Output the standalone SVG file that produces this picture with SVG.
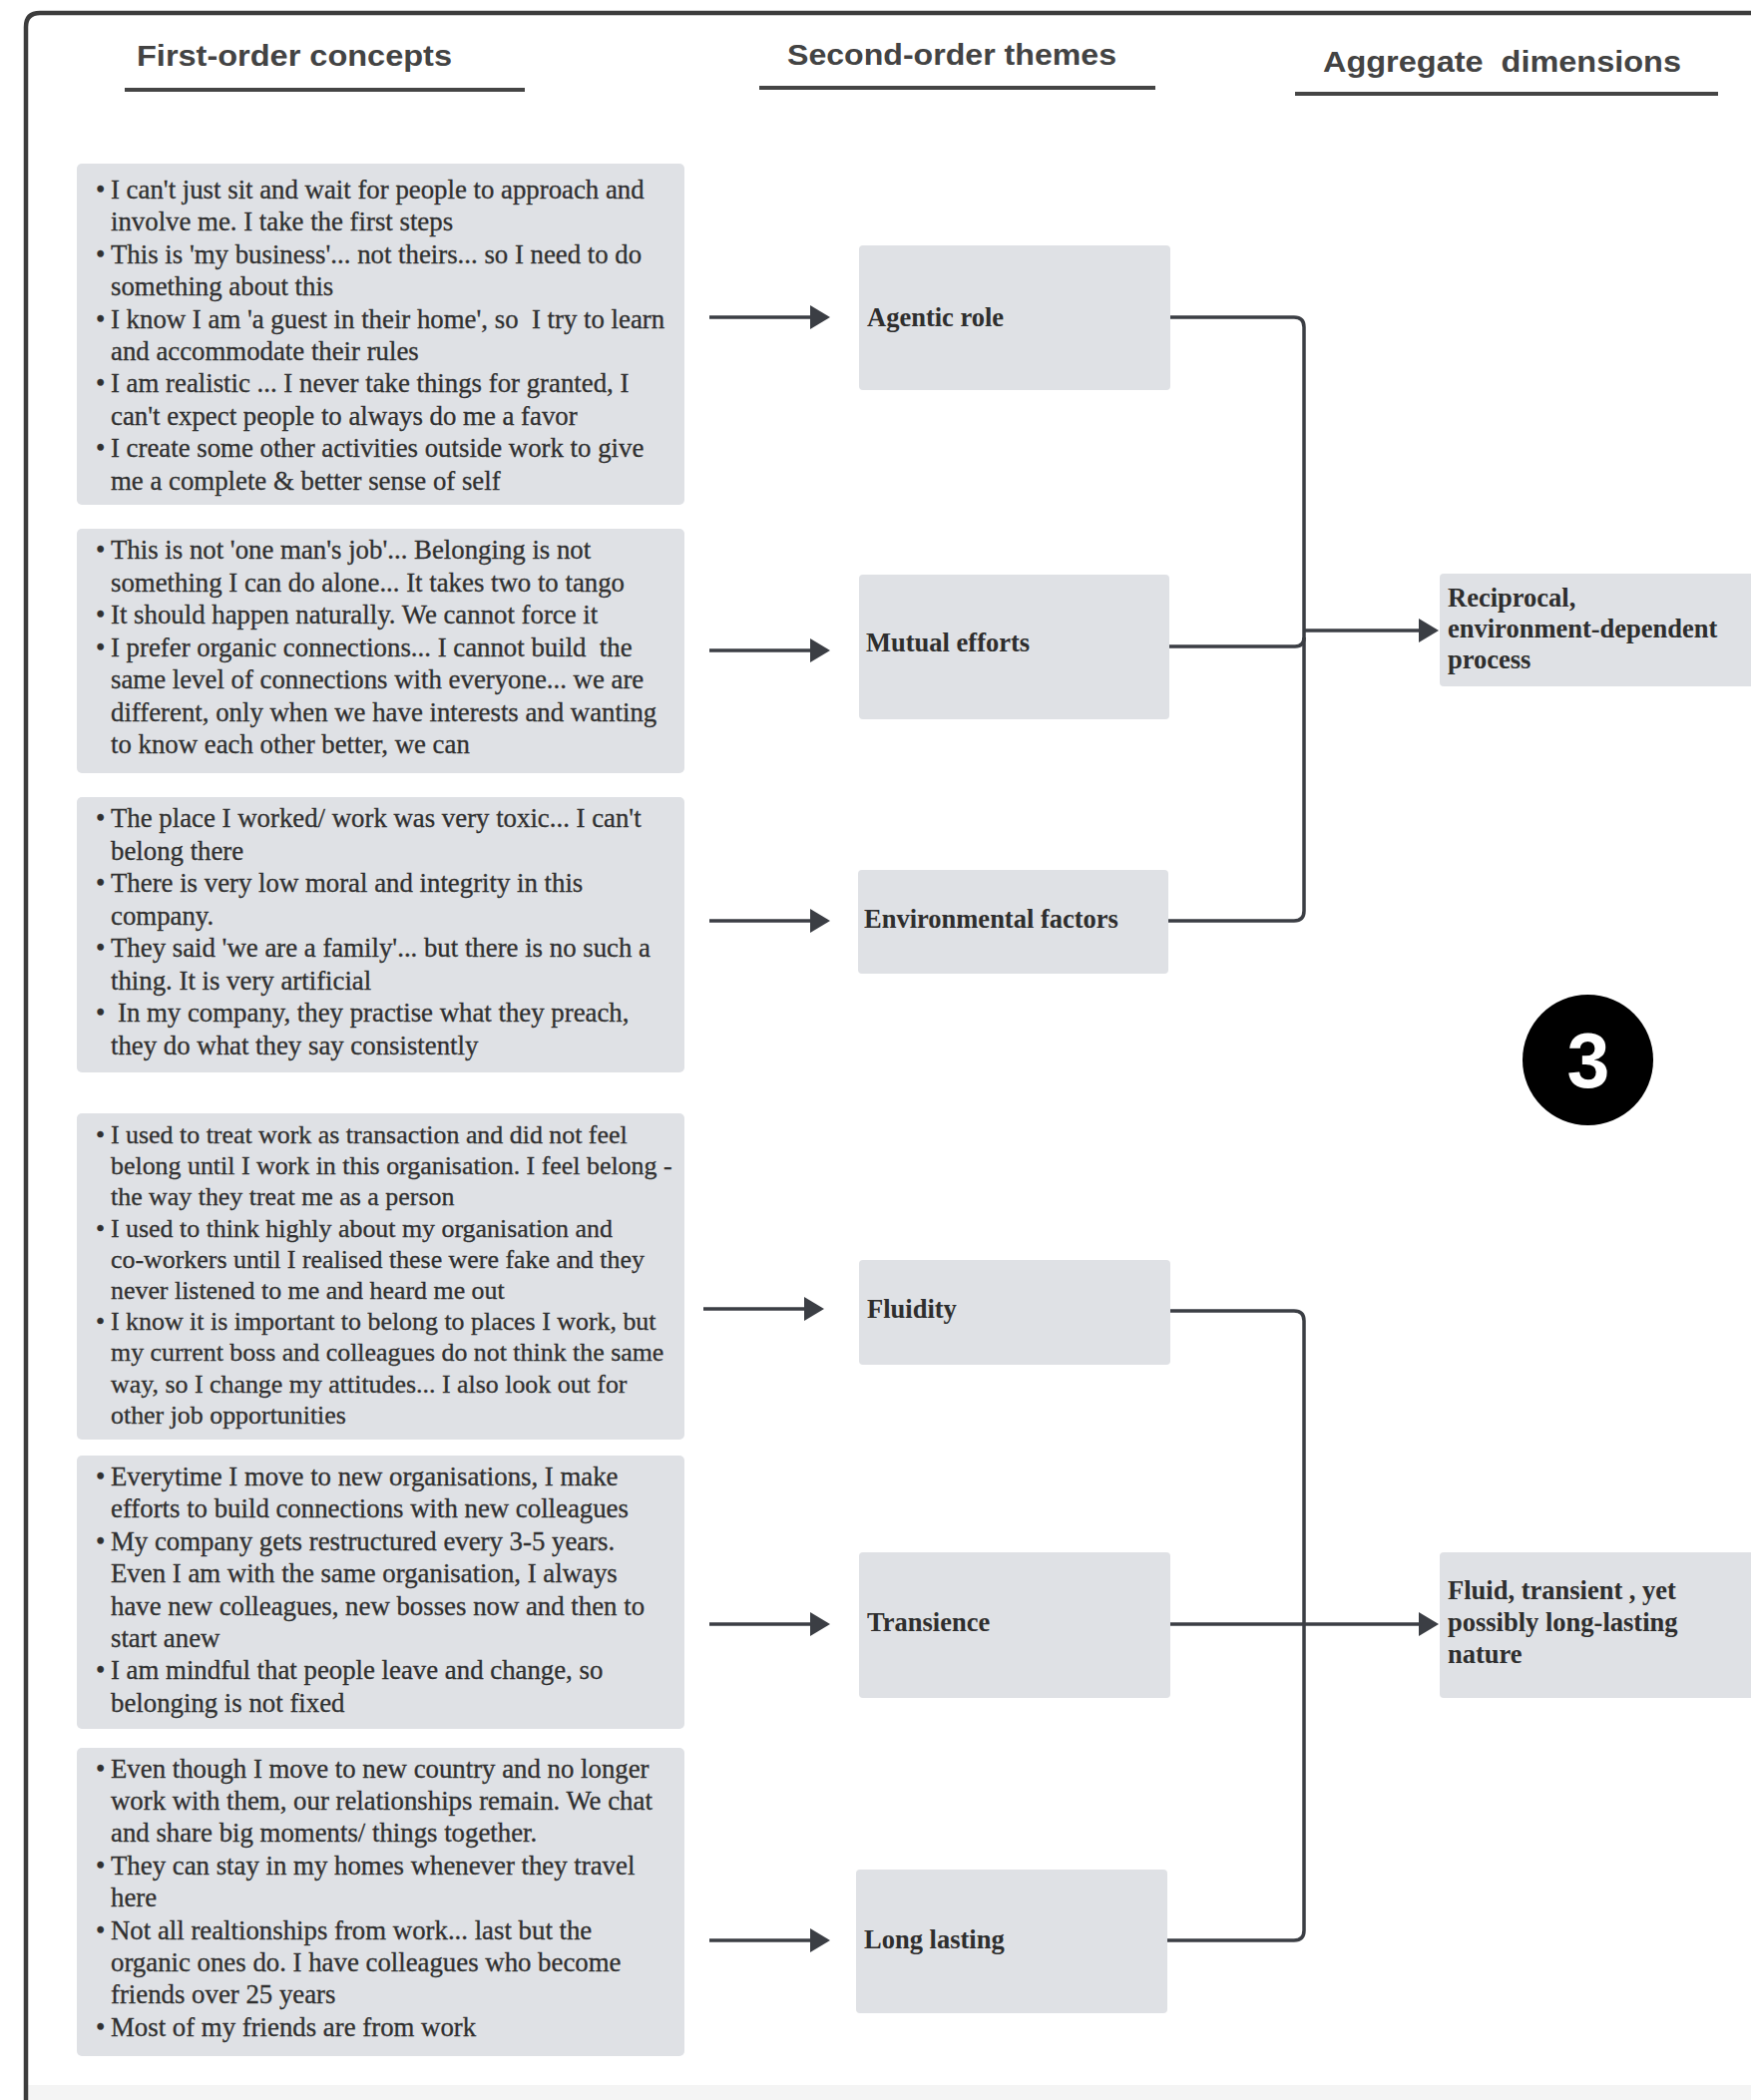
<svg xmlns="http://www.w3.org/2000/svg" width="1755" height="2105" viewBox="0 0 1755 2105">
  <style>
    .hdr { font-family: "Liberation Sans", Arial, sans-serif; font-weight: bold; font-size: 30px; fill: #434343; }
    .rule { stroke: #454545; stroke-width: 4; }
    .box { fill: #dfe1e5; }
    .body { font-family: "Liberation Serif", "Times New Roman", serif; font-size: 26.8px; fill: #303030; stroke: #303030; stroke-width: 0.3; }
    .body.small { font-size: 25.9px; }
    .theme { font-family: "Liberation Serif", "Times New Roman", serif; font-weight: bold; font-size: 26.5px; fill: #2e2e2e; }
    .link { fill: none; stroke: #3b3e44; stroke-width: 3.5; }
    .frame { fill: none; stroke: #3c3c3c; stroke-width: 4.5; }
  </style>
  <defs>
    <marker id="head" markerUnits="userSpaceOnUse" viewBox="0 0 20 24" refX="17" refY="12" markerWidth="20" markerHeight="24" orient="auto">
      <path d="M0,0 L20,12 L0,24 z" fill="#3b3e44"/>
    </marker>
  </defs>

  <rect width="1755" height="2105" fill="#ffffff"/>
  <rect x="28" y="2090" width="1727" height="15" fill="#f4f4f4"/>
  <path class="frame" d="M1760 13 H40 Q26 13 26 27 V2110"/>

  <!-- column headings -->
  <g id="headings">
    <text class="hdr" x="137" y="66" textLength="316" lengthAdjust="spacingAndGlyphs">First-order concepts</text>
    <line class="rule" x1="125" y1="90" x2="526" y2="90"/>
    <text class="hdr" x="789" y="65" textLength="330" lengthAdjust="spacingAndGlyphs">Second-order themes</text>
    <line class="rule" x1="761" y1="88" x2="1158" y2="88"/>
    <text class="hdr" x="1326" y="72" textLength="359" lengthAdjust="spacingAndGlyphs">Aggregate&#160; dimensions</text>
    <line class="rule" x1="1298" y1="94" x2="1722" y2="94"/>
  </g>

  <!-- first-order concepts -->
  <g id="concepts-agentic">
    <rect class="box" x="77" y="164" width="609" height="342" rx="5"/>
    <text class="body">
      <tspan x="96" y="199">•</tspan><tspan x="111" y="199">I can't just sit and wait for people to approach and</tspan>
      <tspan x="111" y="231.4">involve me. I take the first steps</tspan>
      <tspan x="96" y="263.8">•</tspan><tspan x="111" y="263.8">This is 'my business'... not theirs... so I need to do</tspan>
      <tspan x="111" y="296.2">something about this</tspan>
      <tspan x="96" y="328.6">•</tspan><tspan x="111" y="328.6">I know I am 'a guest in their home', so&#160; I try to learn</tspan>
      <tspan x="111" y="361">and accommodate their rules</tspan>
      <tspan x="96" y="393.4">•</tspan><tspan x="111" y="393.4">I am realistic ... I never take things for granted, I</tspan>
      <tspan x="111" y="425.8">can't expect people to always do me a favor</tspan>
      <tspan x="96" y="458.2">•</tspan><tspan x="111" y="458.2">I create some other activities outside work to give</tspan>
      <tspan x="111" y="490.6">me a complete &amp; better sense of self</tspan>
    </text>
  </g>

  <g id="concepts-mutual">
    <rect class="box" x="77" y="530" width="609" height="245" rx="5"/>
    <text class="body">
      <tspan x="96" y="560">•</tspan><tspan x="111" y="560">This is not 'one man's job'... Belonging is not</tspan>
      <tspan x="111" y="592.5">something I can do alone... It takes two to tango</tspan>
      <tspan x="96" y="625">•</tspan><tspan x="111" y="625">It should happen naturally. We cannot force it</tspan>
      <tspan x="96" y="657.5">•</tspan><tspan x="111" y="657.5">I prefer organic connections... I cannot build&#160; the</tspan>
      <tspan x="111" y="690">same level of connections with everyone... we are</tspan>
      <tspan x="111" y="722.5">different, only when we have interests and wanting</tspan>
      <tspan x="111" y="755">to know each other better, we can</tspan>
    </text>
  </g>

  <g id="concepts-environment">
    <rect class="box" x="77" y="799" width="609" height="276" rx="5"/>
    <text class="body">
      <tspan x="96" y="829">•</tspan><tspan x="111" y="829">The place I worked/ work was very toxic... I can't</tspan>
      <tspan x="111" y="861.5">belong there</tspan>
      <tspan x="96" y="894">•</tspan><tspan x="111" y="894">There is very low moral and integrity in this</tspan>
      <tspan x="111" y="926.5">company.</tspan>
      <tspan x="96" y="959">•</tspan><tspan x="111" y="959">They said 'we are a family'... but there is no such a</tspan>
      <tspan x="111" y="991.5">thing. It is very artificial</tspan>
      <tspan x="96" y="1024">•</tspan><tspan x="118" y="1024">In my company, they practise what they preach,</tspan>
      <tspan x="111" y="1056.5">they do what they say consistently</tspan>
    </text>
  </g>

  <g id="concepts-fluidity">
    <rect class="box" x="77" y="1116" width="609" height="327" rx="5"/>
    <text class="body small">
      <tspan x="96" y="1146">•</tspan><tspan x="111" y="1146">I used to treat work as transaction and did not feel</tspan>
      <tspan x="111" y="1177.2">belong until I work in this organisation. I feel belong -</tspan>
      <tspan x="111" y="1208.4">the way they treat me as a person</tspan>
      <tspan x="96" y="1239.6">•</tspan><tspan x="111" y="1239.6">I used to think highly about my organisation and</tspan>
      <tspan x="111" y="1270.8">co-workers until I realised these were fake and they</tspan>
      <tspan x="111" y="1302">never listened to me and heard me out</tspan>
      <tspan x="96" y="1333.2">•</tspan><tspan x="111" y="1333.2">I know it is important to belong to places I work, but</tspan>
      <tspan x="111" y="1364.4">my current boss and colleagues do not think the same</tspan>
      <tspan x="111" y="1395.6">way, so I change my attitudes... I also look out for</tspan>
      <tspan x="111" y="1426.8">other job opportunities</tspan>
    </text>
  </g>

  <g id="concepts-transience">
    <rect class="box" x="77" y="1459" width="609" height="274" rx="5"/>
    <text class="body">
      <tspan x="96" y="1489">•</tspan><tspan x="111" y="1489">Everytime I move to new organisations, I make</tspan>
      <tspan x="111" y="1521.4">efforts to build connections with new colleagues</tspan>
      <tspan x="96" y="1553.8">•</tspan><tspan x="111" y="1553.8">My company gets restructured every 3-5 years.</tspan>
      <tspan x="111" y="1586.2">Even I am with the same organisation, I always</tspan>
      <tspan x="111" y="1618.6">have new colleagues, new bosses now and then to</tspan>
      <tspan x="111" y="1651">start anew</tspan>
      <tspan x="96" y="1683.4">•</tspan><tspan x="111" y="1683.4">I am mindful that people leave and change, so</tspan>
      <tspan x="111" y="1715.8">belonging is not fixed</tspan>
    </text>
  </g>

  <g id="concepts-long-lasting">
    <rect class="box" x="77" y="1752" width="609" height="309" rx="5"/>
    <text class="body">
      <tspan x="96" y="1781.5">•</tspan><tspan x="111" y="1781.5">Even though I move to new country and no longer</tspan>
      <tspan x="111" y="1813.9">work with them, our relationships remain. We chat</tspan>
      <tspan x="111" y="1846.3">and share big moments/ things together.</tspan>
      <tspan x="96" y="1878.7">•</tspan><tspan x="111" y="1878.7">They can stay in my homes whenever they travel</tspan>
      <tspan x="111" y="1911.1">here</tspan>
      <tspan x="96" y="1943.5">•</tspan><tspan x="111" y="1943.5">Not all realtionships from work... last but the</tspan>
      <tspan x="111" y="1975.9">organic ones do. I have colleagues who become</tspan>
      <tspan x="111" y="2008.3">friends over 25 years</tspan>
      <tspan x="96" y="2040.7">•</tspan><tspan x="111" y="2040.7">Most of my friends are from work</tspan>
    </text>
  </g>

  <!-- second-order themes -->
  <g id="theme-agentic">
    <rect class="box" x="861" y="246" width="312" height="145" rx="4"/>
    <text class="theme" x="869" y="327">Agentic role</text>
  </g>
  <g id="theme-mutual">
    <rect class="box" x="861" y="576" width="311" height="145" rx="4"/>
    <text class="theme" x="868" y="653">Mutual efforts</text>
  </g>
  <g id="theme-environment">
    <rect class="box" x="860" y="872" width="311" height="104" rx="4"/>
    <text class="theme" x="866" y="930">Environmental factors</text>
  </g>
  <g id="theme-fluidity">
    <rect class="box" x="861" y="1263" width="312" height="105" rx="4"/>
    <text class="theme" x="869" y="1321">Fluidity</text>
  </g>
  <g id="theme-transience">
    <rect class="box" x="861" y="1556" width="312" height="146" rx="4"/>
    <text class="theme" x="869" y="1635">Transience</text>
  </g>
  <g id="theme-long-lasting">
    <rect class="box" x="858" y="1874" width="312" height="144" rx="4"/>
    <text class="theme" x="866" y="1953">Long lasting</text>
  </g>

  <!-- aggregate dimensions -->
  <g id="dimension-reciprocal">
    <rect class="box" x="1443" y="575" width="330" height="113" rx="4"/>
    <text class="theme">
      <tspan x="1451" y="608">Reciprocal,</tspan>
      <tspan x="1451" y="639">environment-dependent</tspan>
      <tspan x="1451" y="670">process</tspan>
    </text>
  </g>
  <g id="dimension-fluid">
    <rect class="box" x="1443" y="1556" width="330" height="146" rx="4"/>
    <text class="theme">
      <tspan x="1451" y="1603">Fluid, transient , yet</tspan>
      <tspan x="1451" y="1635">possibly long-lasting</tspan>
      <tspan x="1451" y="1667">nature</tspan>
    </text>
  </g>

  <!-- connectors -->
  <g id="connectors">
    <line class="link" x1="711" y1="318" x2="829" y2="318" marker-end="url(#head)"/>
    <line class="link" x1="711" y1="652" x2="829" y2="652" marker-end="url(#head)"/>
    <line class="link" x1="711" y1="923" x2="829" y2="923" marker-end="url(#head)"/>
    <line class="link" x1="705" y1="1312" x2="823" y2="1312" marker-end="url(#head)"/>
    <line class="link" x1="711" y1="1628" x2="829" y2="1628" marker-end="url(#head)"/>
    <line class="link" x1="711" y1="1945" x2="829" y2="1945" marker-end="url(#head)"/>

    <path class="link" d="M1173 318 H1297 Q1307 318 1307 328 V913 Q1307 923 1297 923 H1171"/>
    <path class="link" d="M1172 648 H1298 Q1307 648 1307 639"/>
    <line class="link" x1="1307" y1="632" x2="1439" y2="632" marker-end="url(#head)"/>

    <path class="link" d="M1173 1314 H1297 Q1307 1314 1307 1324 V1935 Q1307 1945 1297 1945 H1170"/>
    <line class="link" x1="1173" y1="1628" x2="1439" y2="1628" marker-end="url(#head)"/>
  </g>

  <!-- numbered badge -->
  <g id="badge">
    <circle cx="1591.5" cy="1062.5" r="65.5" fill="#000000"/>
    <text x="1592" y="1090" text-anchor="middle" font-family="Liberation Sans, Arial, sans-serif" font-weight="bold" font-size="77" fill="#ffffff">3</text>
  </g>
</svg>
